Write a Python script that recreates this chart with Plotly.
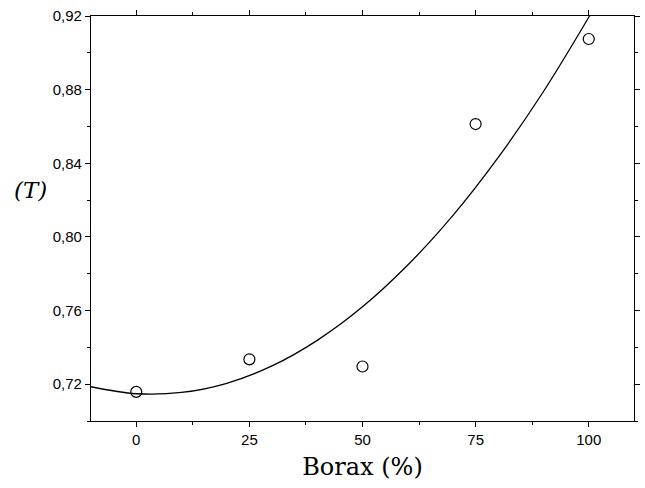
import plotly.graph_objects as go

# measured data points
borax = [0, 25, 50, 75, 100]
T_values = [0.7158, 0.7335, 0.7296, 0.8613, 0.9075]

# fitted curve
fit_x = [-10, 0, 10, 20, 30, 40, 50, 60, 70, 80, 90, 100, 102]
fit_y = [0.7186, 0.7148, 0.7155, 0.7205, 0.7299, 0.7438, 0.7620,
         0.7847, 0.8117, 0.8432, 0.8790, 0.9193, 0.9279]

x_ticks = [0, 25, 50, 75, 100]
y_ticks = [0.72, 0.76, 0.80, 0.84, 0.88, 0.92]

SERIF = "DejaVu Serif"
SANS = "Liberation Sans"

fig = go.Figure()
fig.add_trace(go.Scatter(x=fit_x, y=fit_y, mode="lines",
                         line=dict(color="black", width=1.3, shape="spline"),
                         showlegend=False, hoverinfo="skip"))
fig.add_trace(go.Scatter(x=borax, y=T_values, mode="markers",
                         marker=dict(symbol="circle-open", size=11,
                                     color="black", line=dict(width=1.2)),
                         showlegend=False, cliponaxis=False))

tick_font = dict(family=SANS, size=15, color="black")

fig.update_layout(
    width=645, height=488,
    margin=dict(l=91, r=11, t=16, b=67, autoexpand=False),
    paper_bgcolor="white", plot_bgcolor="white",
    separators=",.",
    font=dict(family=SANS, color="black"),
    xaxis=dict(
        range=[-10, 110], tickvals=x_ticks, ticks="outside", ticklen=5,
        tickwidth=1, tickcolor="black", automargin=False,
        minor=dict(dtick=12.5, tick0=0, ticks="outside", ticklen=3, tickcolor="black"),
        showline=True, linecolor="black", linewidth=1.3, mirror="ticks",
        showgrid=False, zeroline=False, tickfont=tick_font,
        title=dict(text="Borax (%)", standoff=11,
                   font=dict(family=SERIF, size=24, color="black")),
    ),
    yaxis=dict(
        range=[0.70, 0.92], tickvals=y_ticks, tickformat=".2f",
        ticks="outside", ticklen=5, tickwidth=1, tickcolor="black", automargin=False,
        minor=dict(dtick=0.02, tick0=0.70, ticks="outside", ticklen=3, tickcolor="black"),
        showline=True, linecolor="black", linewidth=1.3, mirror="ticks",
        showgrid=False, zeroline=False, tickfont=tick_font,
    ),
    annotations=[dict(
        text="<i>(T)</i>", xref="paper", yref="paper", x=-0.112, y=0.57,
        xanchor="center", yanchor="middle", showarrow=False,
        font=dict(family=SERIF, size=23, color="black"),
    )],
)

fig.write_html("out.html", config={"displayModeBar": False},
               post_script="document.body.style.margin='0';document.body.style.overflow='hidden';")
